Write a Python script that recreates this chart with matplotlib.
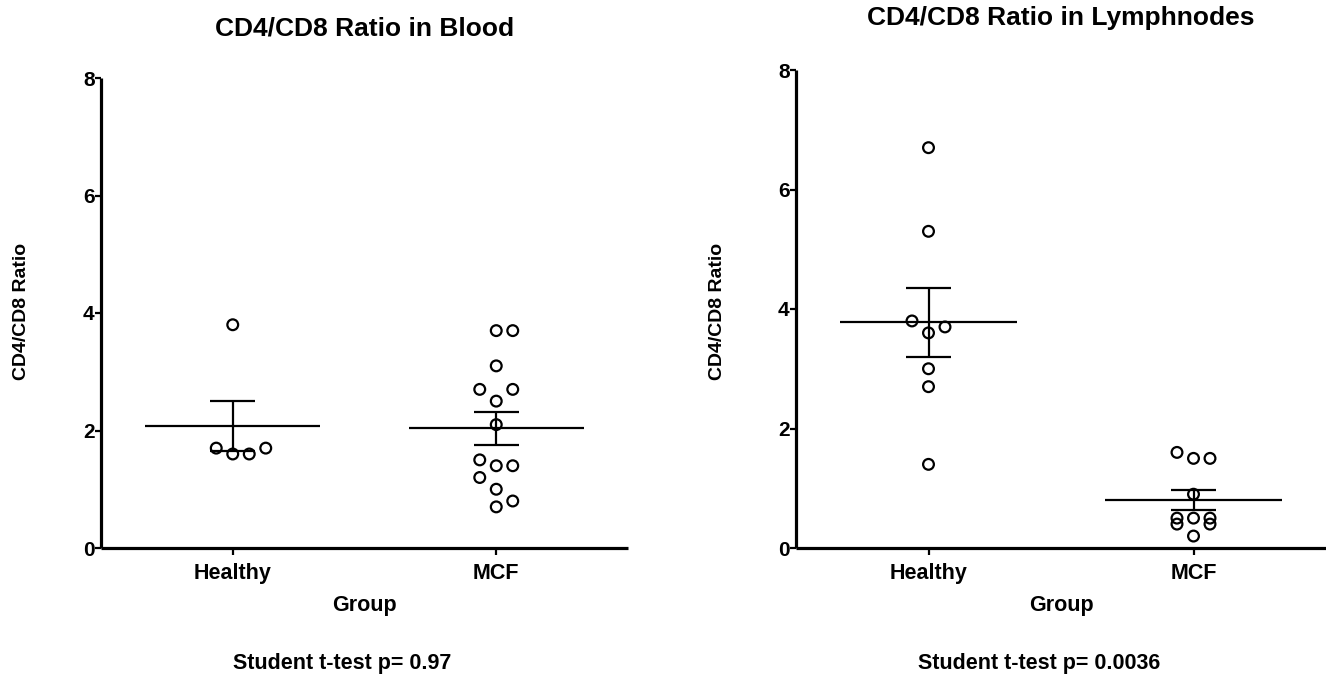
"""CD4/CD8 ratio scatter plots (blood vs lymphnodes), GraphPad-style."""

import matplotlib.pyplot as plt
import numpy as np

GROUPS = ["Healthy", "MCF"]

BLOOD_HEALTHY = [3.8, 1.7, 1.6, 1.6, 1.7]
BLOOD_MCF = [3.7, 3.7, 3.1, 2.7, 2.7, 2.5, 2.1, 1.5, 1.4, 1.4, 1.2, 1.0, 0.8, 0.7]
LYMPH_HEALTHY = [6.7, 5.3, 3.8, 3.7, 3.6, 3.0, 2.7, 1.4]
LYMPH_MCF = [1.6, 1.5, 1.5, 0.9, 0.5, 0.5, 0.5, 0.4, 0.4, 0.2]

Y_TICKS = [0, 2, 4, 6, 8]
BLOOD_P = "0.97"
LYMPH_P = "0.0036"

W, H = 1326, 674
plt.rcParams["font.family"] = ["Liberation Sans", "DejaVu Sans"]
plt.rcParams["font.weight"] = "bold"


def px_rect(x0, x1, y_top, y_bot):
    return [x0 / W, 1 - y_bot / H, (x1 - x0) / W, (y_bot - y_top) / H]


def fig_text(fig, x, y, s, **kw):
    fig.text(x / W, 1 - y / H, s, ha="center", va="center", **kw)


def swarm_x(ax, values, center, max_slot, step_px=16.5, diam_px=13.0):
    """Beeswarm-ish slot placement in display pixels, returns x in data units."""
    vals = np.asarray(values, dtype=float)
    pts = ax.transData.transform(np.column_stack([np.full(len(vals), center), vals]))
    ys = pts[:, 1]
    x_per_unit = np.diff(ax.transData.transform([(1, 0), (2, 0)])[:, 0])[0]
    placed = []
    slots = np.zeros(len(vals))
    cands = [0] + [s for k in range(1, max_slot + 1) for s in (k, -k)]
    for i in np.argsort(vals, kind="stable"):
        y = ys[i]

        def clearance(s):
            d = [np.hypot((s - ps) * step_px, y - py) for ps, py in placed]
            return min(d) if d else np.inf

        chosen = None
        for k in range(max_slot + 1):
            ring = (0,) if k == 0 else (k, -k)
            free = [s for s in ring if clearance(s) >= diam_px]
            if len(free) == 2:
                npos = sum(ps > 0 for ps, _ in placed)
                nneg = sum(ps < 0 for ps, _ in placed)
                chosen = k if npos <= nneg else -k
            elif free:
                chosen = free[0]
            if chosen is not None:
                break
        if chosen is None:
            chosen = max(cands, key=clearance)
        placed.append((chosen, y))
        slots[i] = chosen
    return center + slots * step_px / x_per_unit


def draw_panel(fig, rect, data, title, p_text, title_y):
    ax = fig.add_axes(rect)
    ax.set_xlim(0.5, 2.5)
    ax.set_ylim(0, 8)
    for side in ("top", "right"):
        ax.spines[side].set_visible(False)
    for side in ("left", "bottom"):
        ax.spines[side].set_linewidth(2.3)
        ax.spines[side].set_capstyle("butt")
    ax.set_yticks(Y_TICKS)
    ax.set_xticks([1, 2])
    ax.set_xticklabels(GROUPS)
    ax.tick_params(axis="y", length=4, width=1.6, pad=0.5, labelsize=15)
    ax.tick_params(axis="x", length=5, width=1.6, pad=6, labelsize=15.5)

    for c, (vals, max_slot) in enumerate(data, start=1):
        vals = np.asarray(vals, dtype=float)
        mean = vals.mean()
        sem = vals.std(ddof=1) / np.sqrt(len(vals))
        xs = swarm_x(ax, vals, c, max_slot)
        ax.scatter(xs, vals, s=60, facecolors="none", edgecolors="black",
                   linewidths=1.6, zorder=3, clip_on=False)
        ax.hlines(mean, c - 0.333, c + 0.333, color="black", lw=1.6, zorder=2)
        ax.vlines(c, mean - sem, mean + sem, color="black", lw=1.6, zorder=2)
        ax.hlines([mean - sem, mean + sem], c - 0.085, c + 0.085,
                  color="black", lw=1.6, zorder=2)

    x0 = rect[0] * W
    x1 = (rect[0] + rect[2]) * W
    xc = (x0 + x1) / 2
    fig_text(fig, xc, title_y, title, fontsize=19, fontweight="bold")
    fig_text(fig, xc, 606, "Group", fontsize=15.5, fontweight="bold")
    fig_text(fig, x0 - 79, 311, "CD4/CD8 Ratio", fontsize=14,
             fontweight="bold", rotation=90)
    fig_text(fig, xc - 22, 663, f"Student t-test p= {p_text}", fontsize=15.5,
             fontweight="bold")
    return ax


fig = plt.figure(figsize=(W / 100, H / 100), dpi=100)
draw_panel(fig, px_rect(101, 628, 78, 548),
           [(BLOOD_HEALTHY, 2), (BLOOD_MCF, 2)],
           "CD4/CD8 Ratio in Blood", BLOOD_P, 28)
draw_panel(fig, px_rect(796, 1326, 70, 548),
           [(LYMPH_HEALTHY, 1), (LYMPH_MCF, 1)],
           "CD4/CD8 Ratio in Lymphnodes", LYMPH_P, 18)

fig.savefig("out.png", dpi=100)
